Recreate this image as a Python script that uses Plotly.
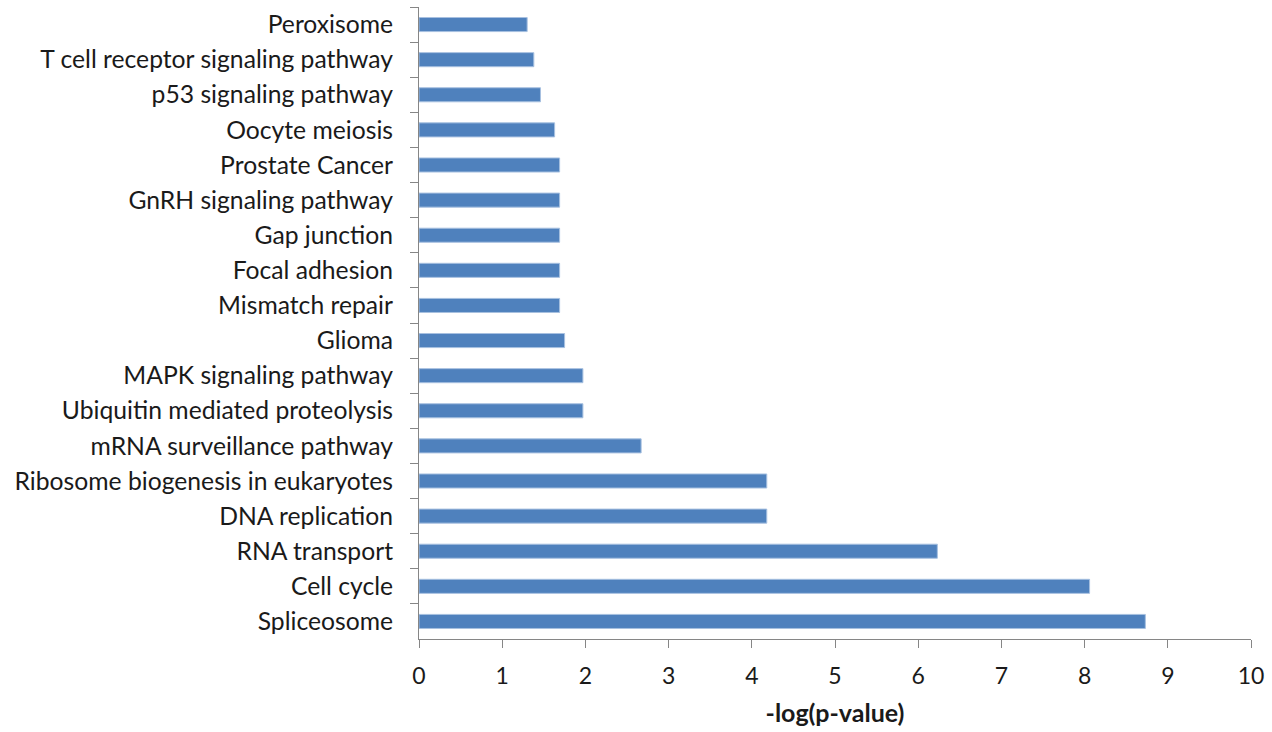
import plotly.graph_objects as go

pathways = [
    "Peroxisome",
    "T cell receptor signaling pathway",
    "p53 signaling pathway",
    "Oocyte meiosis",
    "Prostate Cancer",
    "GnRH signaling pathway",
    "Gap junction",
    "Focal adhesion",
    "Mismatch repair",
    "Glioma",
    "MAPK signaling pathway",
    "Ubiquitin mediated proteolysis",
    "mRNA surveillance pathway",
    "Ribosome biogenesis in eukaryotes",
    "DNA replication",
    "RNA transport",
    "Cell cycle",
    "Spliceosome",
]
neg_log_p = [1.30, 1.38, 1.46, 1.63, 1.69, 1.69, 1.69, 1.69, 1.69,
             1.75, 1.97, 1.97, 2.67, 4.18, 4.18, 6.23, 8.06, 8.73]
x_ticks = list(range(0, 11))

font_family = "Lato, 'Open Sans', sans-serif"
axis_grey = "#868686"
text_color = "#1a1a1a"

fig = go.Figure(
    go.Bar(
        x=neg_log_p,
        y=pathways,
        orientation="h",
        marker=dict(color="#4F81BD", line=dict(color="#A7C0E0", width=1)),
        hoverinfo="x+y",
    )
)

fig.update_layout(
    width=1272,
    height=732,
    margin=dict(l=419, r=21, t=7, b=93),
    paper_bgcolor="white",
    plot_bgcolor="white",
    showlegend=False,
    bargap=0.6,
    font=dict(family=font_family, color=text_color),
)

fig.update_xaxes(
    range=[0, 10],
    tickvals=x_ticks,
    ticktext=[str(v) for v in x_ticks],
    showgrid=False,
    zeroline=False,
    showline=True,
    linecolor=axis_grey,
    linewidth=1,
    ticks="outside",
    ticklen=8,
    tickcolor=axis_grey,
    ticklabelstandoff=8,
    tickfont=dict(size=23, family=font_family, color=text_color),
    title=dict(text="<b>-log(p-value)</b>", font=dict(size=25, family=font_family, color=text_color), standoff=16),
)

fig.update_yaxes(
    autorange="reversed",
    showgrid=False,
    showline=True,
    linecolor=axis_grey,
    linewidth=1,
    ticks="outside",
    ticklen=8,
    tickcolor=axis_grey,
    tickson="boundaries",
    ticklabelstandoff=20,
    tickfont=dict(size=24.7, family=font_family, color=text_color),
)

fig.write_html("out.html")
